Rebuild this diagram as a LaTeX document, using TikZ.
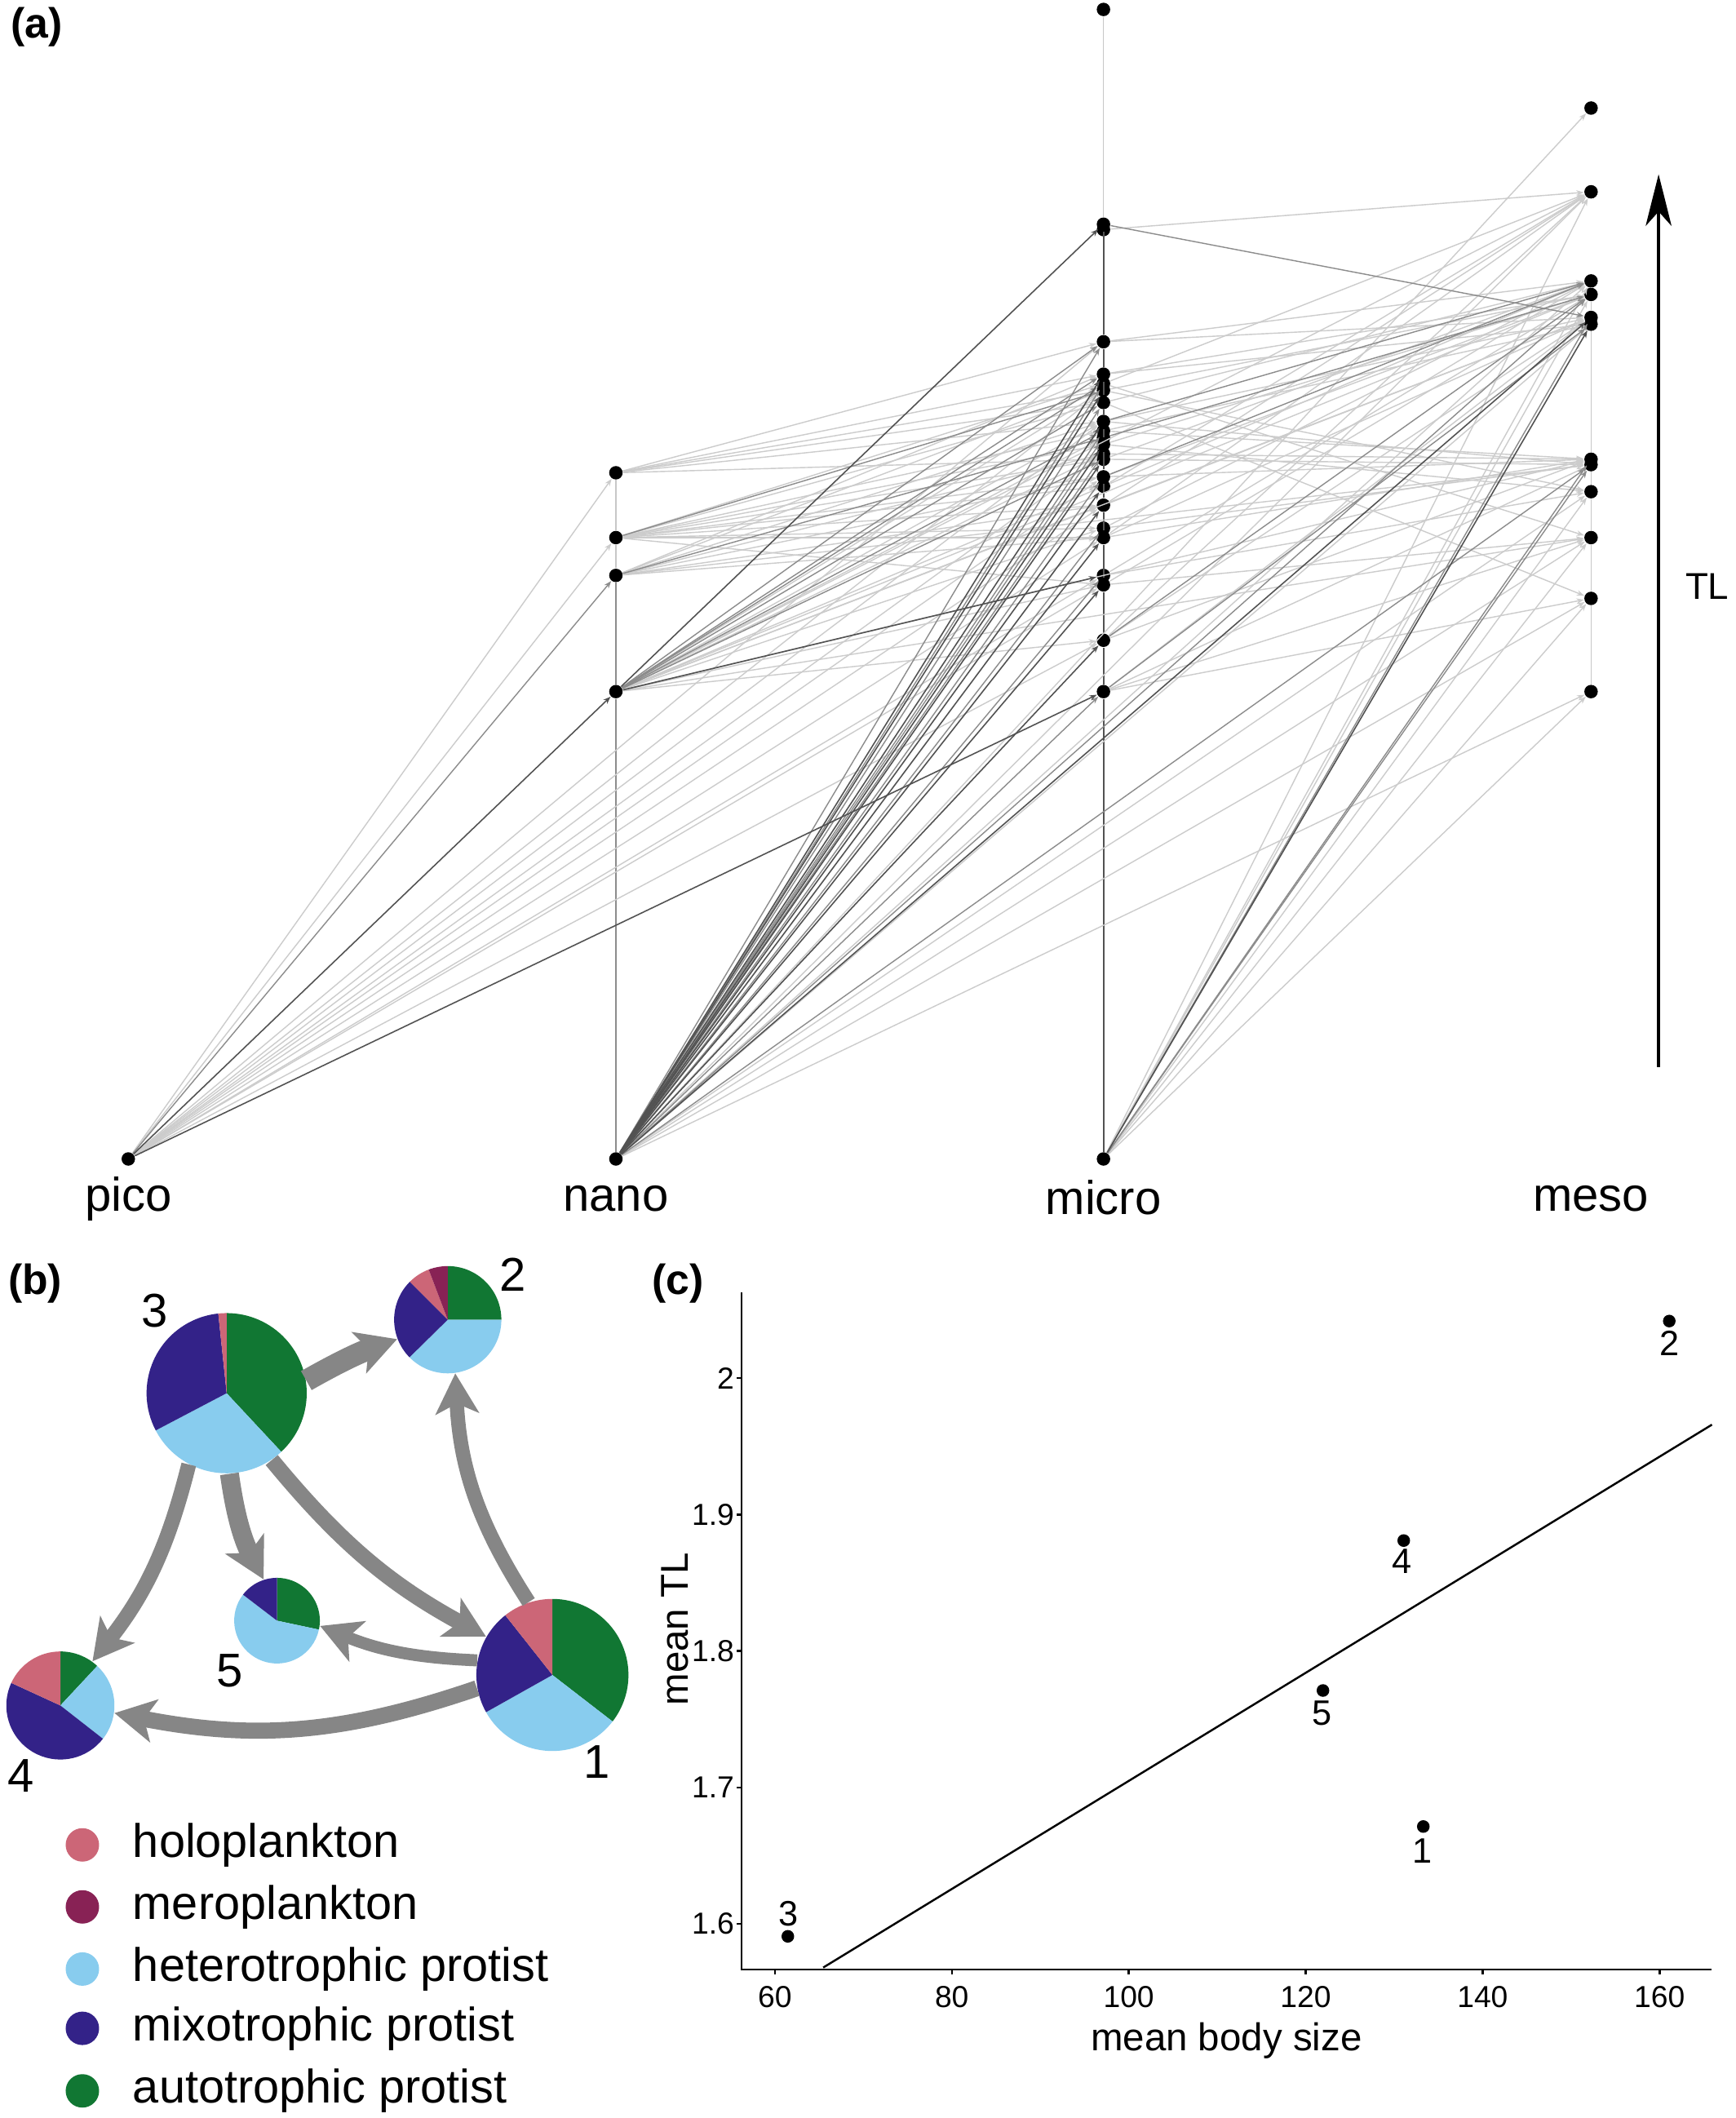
\documentclass[tikz,border=0pt]{standalone}
\usepackage{fontspec}
\setmainfont{Liberation Sans}
\usetikzlibrary{arrows.meta}
\definecolor{holo}{HTML}{CC6677}
\definecolor{mero}{HTML}{882255}
\definecolor{hetero}{HTML}{88CCEE}
\definecolor{mixo}{HTML}{332288}
\definecolor{autog}{HTML}{117733}
\definecolor{agray}{RGB}{134,134,134}
\newcommand\myfs[1]{\fontsize{#1}{#1}\selectfont}
\newcommand\pieslice[5]{\fill[fill=#5] (#1) -- ++(#3:#2) arc[start angle=#3,end angle=#4,radius=#2] -- cycle;}
\begin{document}
\begin{tikzpicture}[x=0.01656cm,y=0.01656cm,
  dot/.style={circle,fill=black,inner sep=0pt,minimum size=0.165cm},
  tipa/.style={-{Stealth[length=2.6pt,width=1.9pt]}},
  eD/.style={draw=black!68,line width=0.45pt,tipa},
  eM/.style={draw=black!45,line width=0.4pt,tipa},
  eL/.style={draw=black!20,line width=0.4pt,tipa},
  vD/.style={draw=black!68,line width=0.5pt},
  vM/.style={draw=black!45,line width=0.45pt},
  vL/.style={draw=black!22,line width=0.45pt},
  lvl/.style={font=\myfs{16.5pt},anchor=base,inner sep=0pt},
  panel/.style={font=\bfseries\myfs{14.7pt},inner sep=0pt},
  bnum/.style={font=\myfs{16.5pt},inner sep=0pt},
  cnum/.style={font=\myfs{12.3pt},inner sep=0pt},
  tick/.style={font=\myfs{10.6pt},inner sep=0pt},
  atitle/.style={font=\myfs{13.5pt},inner sep=0pt},
  legtext/.style={font=\myfs{16.4pt},inner sep=0pt,anchor=base west},
  legdot/.style={circle,inner sep=0pt,minimum size=0.41cm},
  pie/.style={circle,inner sep=0pt},
  barrow/.style={draw=agray,-{Stealth[length=14pt,width=15pt,inset=3.5pt]}},
  axis/.style={line width=0.7pt,black},
  pt/.style={circle,fill=black,inner sep=0pt,minimum size=0.155cm}]
\useasboundingbox (0,0) rectangle (1285,-1568);
\fill[white] (0,0) rectangle (1285,-1568);

% ---------------- panel (a) ----------------
\node[panel] (la) at (27,-20) {(a)};
\node[dot] (p858) at (95,-858) {};
\foreach \y in {858,512,426,398,350} \node[dot] (n\y) at (456,-\y) {};
\foreach \y in {858,512,474,433,426,398,391,374,360,353,340,336,329,324,319,312,298,289,284,277,253,170,166,7}
  \node[dot] (m\y) at (817,-\y) {};
\foreach \y in {512,443,398,364,344,340,240,235,218,208,142,80}
  \node[dot] (s\y) at (1178,-\y) {};

% vertical links
\foreach \a/\b in {m858/m512,m512/m474,m474/m433,m433/m398,m398/m374,m374/m353,m353/m329,m329/m312,m312/m298,m298/m277,m277/m253,m253/m166}
  \draw[vD] (\a) -- (\b);
\draw[vL] (m166) -- (m7);
\foreach \a/\b in {n858/n512,n512/n426} \draw[vM] (\a) -- (\b);
\foreach \a/\b in {n426/n398,n398/n350} \draw[vL] (\a) -- (\b);
\foreach \a/\b in {s512/s443,s443/s398,s398/s364,s364/s344,s340/s240,s235/s218,s218/s208} \draw[vL] (\a) -- (\b);

% light edges
\foreach \a/\b in {p858/n350,p858/n398,p858/m474,p858/m433,p858/m398,p858/m374,p858/m353,p858/m336,p858/m312,p858/m289,p858/m253,p858/m426,
  n350/m277,n350/m298,n350/m312,n350/m253,n350/m340,n350/m289,
  n398/m284,n398/m298,n398/m319,n398/m329,n398/m340,n398/m353,n398/m360,n398/m374,n398/m391,n398/m433,n398/m398,
  n426/m289,n426/m312,n426/m336,n426/m353,n426/m374,n426/m398,n426/s344,n426/m277,
  n512/m289,n512/m312,n512/m324,n512/m336,n512/m360,n512/m374,n512/m391,n512/m433,n512/m474,n512/s340,n512/s218,n512/s235,n512/s398,n512/s142,
  n858/s512,n858/s443,n858/s398,n858/s364,n858/s208,n858/s142,n858/s80,n858/s240,
  m858/s512,m858/s443,m858/s398,m858/s364,m858/s218,m858/s208,m858/s142,
  m170/s142,
  m253/s208,m277/s218,m284/s142,m289/s364,m298/s208,m312/s235,m319/s240,m329/s218,m336/s340,m340/s344,m353/s340,m360/s208,m374/s142,m391/s344,m398/s235,m426/s364,m433/s218,m474/s340,m512/s398,m512/s443,m512/s235,m474/s142,m433/s398,m391/s208,m340/s208,m319/s340,m284/s398,m298/s443,m360/s142,m398/s142,m253/s235,m277/s240,m312/s344,m329/s364,m353/s218,m374/s235,m398/s340,m426/s208,m474/s235,m512/s344,m289/s218}
  \draw[eL] (\a) -- (\b);
% medium edges
\foreach \a/\b in {p858/n426,n858/m512,n858/m426,n858/m391,n858/m353,n858/m336,n858/m324,n858/m319,n858/m298,n858/m284,n858/m253,n858/s344,n858/s218,
  n512/m340,n512/m319,n512/m298,n512/m284,n512/m277,n512/m253,m166/s235,m858/s235,m858/s344,m858/s340,m312/s208,m324/s218,m512/s240,n398/m289,n426/m324,m353/s208,m474/s218}
  \draw[eM] (\a) -- (\b);
% dark edges
\foreach \a/\b in {p858/n512,p858/m512,n512/m166,n858/m474,n858/m433,n858/m398,n858/m374,n858/m360,n858/m340,n858/m329,n858/m312,n858/m289,n858/m277,m858/s240,n858/s235,n512/m426}
  \draw[eD] (\a) -- (\b);

\node[lvl] (lpico) at (95,-896.4) {pico};
\node[lvl] (lnano) at (456,-896.4) {nano};
\node[lvl] (lmicro) at (817,-899.2) {micro};
\node[lvl] (lmeso) at (1178,-896.4) {meso};

\coordinate (tlb) at (1228,-790);
\coordinate (tlt) at (1228,-129);
\draw[line width=1.15pt,-{Stealth[length=18pt,width=9pt,inset=5pt]}] (tlb) -- (tlt);
\node[font=\myfs{13pt},anchor=base,inner sep=0pt] (tl) at (1264,-443.5) {TL};

% ---------------- panel (b) ----------------
\node[panel] (lb) at (26,-950) {(b)};
\node[pie,minimum size=1.964cm] (b3) at (167.8,-1031.4) {};
\node[pie,minimum size=1.315cm] (b2) at (331.5,-977) {};
\node[pie,minimum size=1.865cm] (b1) at (409,-1240) {};
\node[pie,minimum size=1.325cm] (b4) at (44.7,-1262.6) {};
\node[pie,minimum size=1.050cm] (b5) at (205.1,-1199.8) {};

\pieslice{b3.center}{59.3}{-47}{90}{autog}
\pieslice{b3.center}{59.3}{-152.3}{-47}{hetero}
\pieslice{b3.center}{59.3}{96}{207.7}{mixo}
\pieslice{b3.center}{59.3}{90}{96}{holo}

\pieslice{b2.center}{39.7}{0}{90}{autog}
\pieslice{b2.center}{39.7}{-135.5}{0}{hetero}
\pieslice{b2.center}{39.7}{135}{224.5}{mixo}
\pieslice{b2.center}{39.7}{110.8}{135}{holo}
\pieslice{b2.center}{39.7}{90}{110.8}{mero}

\pieslice{b1.center}{56.3}{-37.7}{90}{autog}
\pieslice{b1.center}{56.3}{-150.7}{-37.7}{hetero}
\pieslice{b1.center}{56.3}{128.3}{209.3}{mixo}
\pieslice{b1.center}{56.3}{90}{128.3}{holo}

\pieslice{b4.center}{40}{47}{90}{autog}
\pieslice{b4.center}{40}{-38}{47}{hetero}
\pieslice{b4.center}{40}{155.3}{322}{mixo}
\pieslice{b4.center}{40}{90}{155.3}{holo}

\pieslice{b5.center}{31.7}{-12}{90}{autog}
\pieslice{b5.center}{31.7}{142.6}{348}{hetero}
\pieslice{b5.center}{31.7}{90}{142.6}{mixo}

\draw[barrow,line width=7.6pt] (b3.9) to[bend left=5] (b2.201);
\draw[barrow,line width=5pt] (b1.108) to[bend left=15] (b2.-82);
\draw[barrow,line width=5.2pt] (b3.-118) to[bend left=12] (b4.54);
\draw[barrow,line width=6.6pt] (b3.-88) to[bend right=10] (b5.108);
\draw[barrow,line width=5.5pt] (b3.-56) to[bend right=11] (b1.150);
\draw[barrow,line width=4.2pt] (b1.169) to[bend left=10] (b5.-7);
\draw[barrow,line width=5.6pt] (b1.190) to[bend left=15] (b4.-8);

\node[bnum] (nb3) at (114.6,-970.2) {3};
\node[bnum] (nb2) at (379.9,-943.5) {2};
\node[bnum] (nb5) at (170,-1236.6) {5};
\node[bnum] (nb4) at (15.4,-1314.6) {4};
\node[bnum] (nb1) at (442,-1304.1) {1};

% legend
\node[legdot,fill=holo] (g1) at (61,-1365.8) {};
\node[legdot,fill=mero] (g2) at (61,-1411.7) {};
\node[legdot,fill=hetero] (g3) at (61,-1457.7) {};
\node[legdot,fill=mixo] (g4) at (61,-1501.6) {};
\node[legdot,fill=autog] (g5) at (61,-1547.9) {};
\node[legtext] (t1) at (98,-1374.8) {holoplankton};
\node[legtext] (t2) at (98,-1420.7) {meroplankton};
\node[legtext] (t3) at (98,-1466.7) {heterotrophic protist};
\node[legtext] (t4) at (98,-1510.6) {mixotrophic protist};
\node[legtext] (t5) at (98,-1556.9) {autotrophic protist};

% ---------------- panel (c) ----------------
\node[panel] (lc) at (502,-950) {(c)};
\draw[axis] (549,-957) -- (549,-1458) -- (1267,-1458);
\foreach \v/\px in {60/573.7,80/704.7,100/835.7,120/966.7,140/1097.7,160/1228.7}{
  \draw[axis] (\px,-1458) -- (\px,-1461.5);
  \node[tick] (xt\v) at (\px,-1478.3) {\v};
}
\foreach \v/\py [count=\i] in {1.6/-1424.2,1.7/-1323.2,1.8/-1222.2,1.9/-1121.2,2/-1020.2}{
  \draw[axis] (549,\py) -- (545.5,\py);
  \node[tick,anchor=east] (yt\i) at (544,\py) {\v};
}
\node[atitle] (xtitle) at (908,-1511) {mean body size};
\node[atitle,rotate=90] (ytitle) at (500,-1206) {mean TL};

\coordinate (r0) at (609.5,-1456.6);
\coordinate (r1) at (1267.5,-1054.7);
\draw[line width=0.7pt] (r0) -- (r1);

\node[pt] (c2) at (1235.9,-978) {};
\node[pt] (c4) at (1039.3,-1140.5) {};
\node[pt] (c5) at (979.5,-1251.5) {};
\node[pt] (c1) at (1053.8,-1352.2) {};
\node[pt] (c3) at (583.3,-1433.5) {};
\node[cnum] (lc2) at (1236,-994.6) {2};
\node[cnum] (lc4) at (1038,-1156) {4};
\node[cnum] (lc5) at (979,-1268) {5};
\node[cnum] (lc1) at (1053,-1370.5) {1};
\node[cnum] (lc3) at (584,-1417) {3};
\end{tikzpicture}
\end{document}
